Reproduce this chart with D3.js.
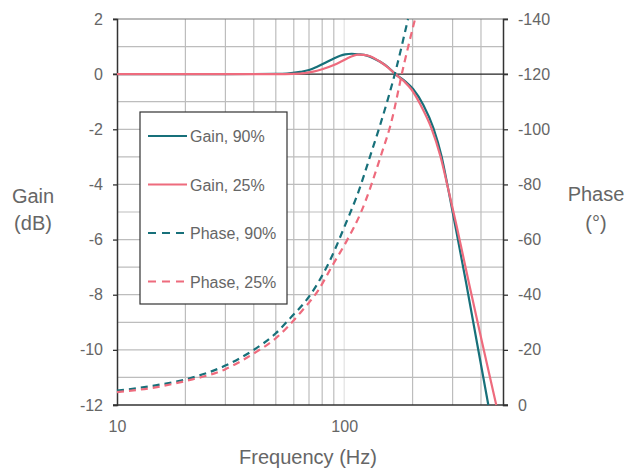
<!DOCTYPE html>
<html>
<head>
<meta charset="utf-8">
<script src="https://d3js.org/d3.v7.min.js"></script>
<style>
  * { margin: 0; padding: 0; }
  body { background: #fff; width: 628px; height: 473px; overflow: hidden; }
  text { font-family: "Liberation Sans", Arial, sans-serif; fill: #666; }
</style>
</head>
<body>
<div id="chart"></div>
<script>
  // frequency (Hz), value pairs
  let gain90 = [[10,0],[30,0],[50,0.01],[56,0.02],[64,0.08],[70,0.15],[76,0.27],[83,0.42],[90,0.57],[96,0.67],[101,0.72],[108,0.74],[116,0.72],[126,0.67],[135,0.57],[144,0.45],[156,0.25],[168,0],[186,-0.27],[201,-0.54],[223,-1.12],[247,-1.96],[268,-2.97],[287,-4.17],[308,-5.48],[345,-7.62],[385,-9.79],[431,-12]];
  let gain25 = [[10,0],[30,0],[50,0],[60,0.01],[67,0.04],[73,0.09],[80,0.18],[90,0.33],[97,0.46],[103,0.57],[109,0.66],[115,0.71],[122,0.7],[130,0.65],[144,0.45],[156,0.24],[168,0],[184,-0.27],[197,-0.54],[217,-1.12],[242,-1.96],[265,-2.97],[287,-4.17],[312,-5.48],[355,-7.62],[406,-9.79],[467,-12]];
  let phase90 = [[10,-5.2],[15,-7.2],[20,-9.3],[30,-14.3],[40,-20],[50,-26],[58,-31.6],[70,-39.3],[84,-50.2],[103,-67],[114,-76],[132,-91.9],[144,-101.6],[171,-123.3],[189,-138.4],[191,-140]];
  let phase25 = [[10,-4.7],[15,-6.5],[20,-8.7],[30,-13],[40,-18.7],[50,-24.2],[64,-33.4],[77,-41.7],[89,-50.8],[103,-59.8],[118,-69.5],[147,-91.9],[160,-101.6],[183,-123.3],[205,-140]];

  let gainTicks = [2, 0, -2, -4, -6, -8, -10, -12];
  let phaseTicks = [-140, -120, -100, -80, -60, -40, -20, 0];
  let freqTicks = [10, 100];
  let freqGrid = [20, 30, 40, 50, 60, 70, 80, 90, 100, 200, 300, 400];

  let series = [
    { name: "Gain, 90%", data: gain90, axis: "gain", color: "#17707a", dash: null },
    { name: "Gain, 25%", data: gain25, axis: "gain", color: "#ee6b7d", dash: null },
    { name: "Phase, 90%", data: phase90, axis: "phase", color: "#17707a", dash: "7,5" },
    { name: "Phase, 25%", data: phase25, axis: "phase", color: "#ee6b7d", dash: "7,5" }
  ];

  let margin = { top: 19, right: 125, bottom: 68, left: 117 };
  let W = 628, H = 473;
  let width = W - margin.left - margin.right,
      height = H - margin.top - margin.bottom;

  let svg = d3.select("#chart").append("svg")
    .attr("width", W)
    .attr("height", H)
    .append("g")
    .attr("transform", "translate(" + margin.left + "," + margin.top + ")");

  let x = d3.scaleLog().domain([10, 500]).range([0, width]);
  let yG = d3.scaleLinear().domain([-12, 2]).range([height, 0]);
  let yP = d3.scaleLinear().domain([0, -140]).range([height, 0]);

  // grid
  let grid = svg.append("g");
  grid.selectAll(".vg").data(freqGrid).enter().append("line")
    .attr("x1", d => x(d)).attr("x2", d => x(d))
    .attr("y1", 0).attr("y2", height)
    .attr("stroke", d => d == 100 ? "#e2e2e2" : "#bdbdbd")
    .attr("stroke-width", 1.2);
  grid.selectAll(".hg").data(d3.range(-11, 2, 1).filter(d => d != 0)).enter().append("line")
    .attr("x1", 0).attr("x2", width)
    .attr("y1", d => yG(d)).attr("y2", d => yG(d))
    .attr("stroke", "#bdbdbd")
    .attr("stroke-width", 1.2);
  // top edge
  grid.append("line")
    .attr("x1", -4).attr("x2", width + 5)
    .attr("y1", yG(2)).attr("y2", yG(2))
    .attr("stroke", "#777").attr("stroke-width", 1.2);
  // 0 dB line
  grid.append("line")
    .attr("x1", -4).attr("x2", width + 5)
    .attr("y1", yG(0)).attr("y2", yG(0))
    .attr("stroke", "#222").attr("stroke-width", 1.2);

  // axes
  let gy = svg.append("g")
    .call(d3.axisLeft(yG).tickValues(gainTicks).tickSize(4).tickPadding(10).tickFormat(d => d));
  let gp = svg.append("g")
    .attr("transform", "translate(" + width + ",0)")
    .call(d3.axisRight(yP).tickValues(phaseTicks).tickSize(5).tickPadding(10).tickFormat(d => d));
  let gx = svg.append("g")
    .attr("transform", "translate(0," + height + ")")
    .call(d3.axisBottom(x).tickValues(freqTicks).tickSize(0).tickPadding(16).tickFormat(d => d));
  gx.select(".domain").attr("d", "M-4,0H" + (width + 5));

  [gy, gp, gx].forEach(g => {
    g.select(".domain").attr("stroke", "#333").attr("stroke-width", 1.5);
    g.selectAll(".tick line").attr("stroke", "#333").attr("stroke-width", 1.3);
    g.selectAll(".tick text")
      .style("font-family", "'Liberation Sans', Arial, sans-serif")
      .style("font-size", "16px")
      .attr("fill", "#666");
  });

  // curves
  let plot = svg.append("g");
  series.forEach(s => {
    let ys = s.axis == "gain" ? yG : yP;
    let line = d3.line()
      .x(d => x(d[0]))
      .y(d => ys(d[1]))
      .curve(d3.curveMonotoneX);
    plot.append("path")
      .datum(s.data)
      .attr("d", line)
      .attr("fill", "none")
      .attr("stroke", s.color)
      .attr("stroke-width", 2.2)
      .attr("stroke-dasharray", s.dash);
  });

  // legend
  let lg = svg.append("g").attr("transform", "translate(" + (140 - margin.left) + "," + (112 - margin.top) + ")");
  lg.append("rect")
    .attr("width", 147).attr("height", 192)
    .attr("fill", "#fff")
    .attr("stroke", "#333").attr("stroke-width", 1.2);
  series.forEach((s, i) => {
    let cy = 24 + i * 48.5;
    lg.append("line")
      .attr("x1", 8).attr("x2", 47)
      .attr("y1", cy).attr("y2", cy)
      .attr("stroke", s.color).attr("stroke-width", 2.2)
      .attr("stroke-dasharray", s.dash ? "8,6" : null);
    lg.append("text")
      .attr("x", 50).attr("y", cy + 6)
      .style("font-size", "16px")
      .text(s.name);
  });

  // axis titles
  let titles = d3.select("svg");
  titles.append("text").attr("x", 33).attr("y", 203).attr("text-anchor", "middle")
    .style("font-size", "20px").text("Gain");
  titles.append("text").attr("x", 33).attr("y", 230).attr("text-anchor", "middle")
    .style("font-size", "20px").text("(dB)");
  titles.append("text").attr("x", 596).attr("y", 201).attr("text-anchor", "middle")
    .style("font-size", "20px").text("Phase");
  titles.append("text").attr("x", 596).attr("y", 230).attr("text-anchor", "middle")
    .style("font-size", "20px").text("(°)");
  titles.append("text").attr("x", 308).attr("y", 464).attr("text-anchor", "middle")
    .style("font-size", "20px").text("Frequency (Hz)");
</script>
</body>
</html>
